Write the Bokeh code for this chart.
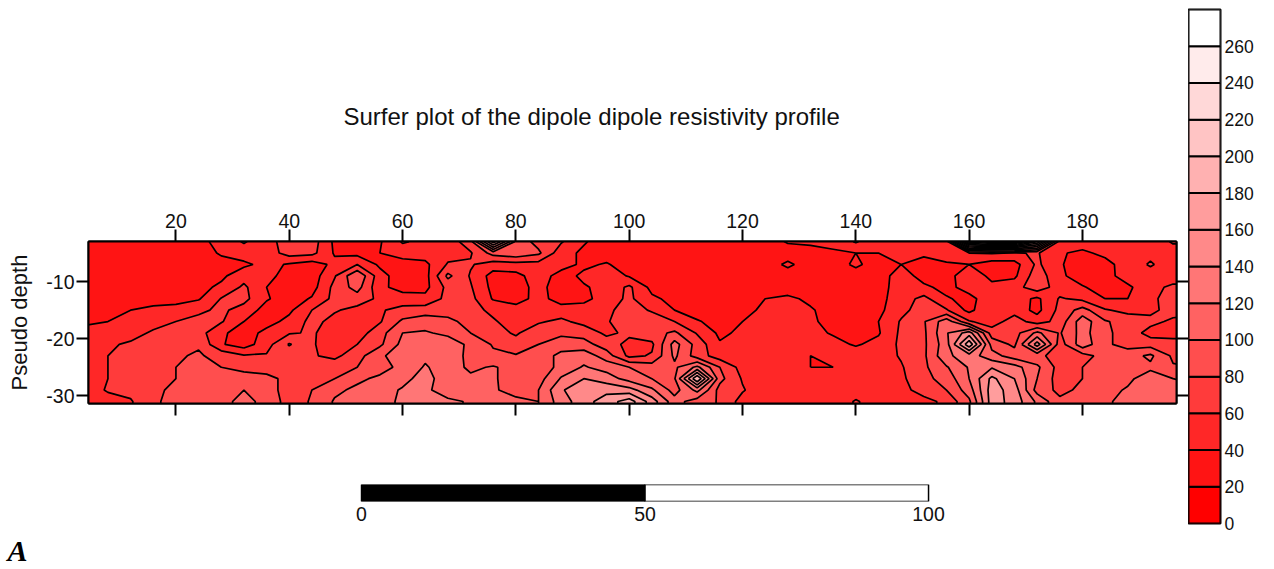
import numpy as np
from bokeh.embed import file_html
from bokeh.layouts import column, row
from bokeh.models import FixedTicker, LinearAxis, Range1d, Title
from bokeh.plotting import figure
from bokeh.resources import INLINE

SANS = "Liberation Sans"

title_text = "Surfer plot of the dipole dipole resistivity profile"
depth_label = "Pseudo depth"
x_ticks = [20, 40, 60, 80, 100, 120, 140, 160, 180]
y_ticks = [-10, -20, -30]
scale_ticks = [0, 50, 100]
levels = list(range(0, 281, 20))
bar_ticks = list(range(0, 261, 20))
band_colors = ["#ff0000", "#ff1414", "#ff2727", "#ff3b3b", "#ff4e4e", "#ff6262", "#ff7676",
               "#ff8989", "#ff9d9d", "#ffb1b1", "#ffc4c4", "#ffd8d8", "#ffebeb", "#ffffff"]

xs = list(range(4, 201, 4))
ys = [-33, -31, -29, -27, -25, -23, -21, -19, -17, -15, -13, -11, -9, -7, -5, -3]

z_03 = [30,30,30,30,30,33,48,62,48,75,70,36,33,38,62,55,48,72,190,95,72,62,42,30,30,30,30,30,30,30,30,42,45,44,62,45,48,50,50,250,275,275,200,50,50,50,50,50,62,62]
z_05 = [30,30,30,30,30,32,42,50,50,68,66,38,34,40,50,50,52,58,88,95,84,48,36,30,30,30,30,30,30,30,30,30,30,38,40,40,45,45,55,60,62,58,62,42,36,45,50,55,52,52]
z_07 = [30,30,30,30,30,32,34,36,46,38,30,45,60,36,30,35,62,62,50,52,52,48,36,42,30,30,30,30,30,30,30,44,30,30,44,30,40,30,36,40,30,32,64,42,30,33,50,62,50,50]
z_09 = [30,30,30,30,30,32,36,52,46,32,30,58,98,48,28,32,85,58,32,34,50,32,44,52,38,30,30,30,30,30,30,30,30,30,30,30,50,32,34,50,36,36,72,44,30,32,50,52,50,50]
z_11 = [30,30,30,30,30,34,44,64,40,30,32,66,88,45,32,34,66,62,34,32,46,30,38,46,64,34,30,30,30,30,30,30,30,30,30,30,52,44,34,48,44,52,72,50,42,30,36,54,64,64]
z_13 = [30,30,30,30,30,38,61,66,42,30,42,66,70,56,50,46,66,66,38,30,48,30,34,50,64,44,34,30,30,30,40,44,36,30,30,34,50,66,42,34,52,50,36,62,55,40,40,56,68,68]
z_15 = [30,32,40,46,50,56,64,52,32,36,60,62,54,58,66,70,70,66,56,50,50,50,50,56,68,58,40,30,30,34,44,50,42,32,30,35,54,70,62,34,60,52,34,66,88,62,54,55,68,68]
z_17 = [39,40,44,50,60,66,62,40,32,46,66,54,50,58,84,92,86,72,62,52,58,64,54,58,72,70,60,42,32,40,50,52,44,32,30,40,62,78,112,62,50,70,50,68,112,82,72,66,56,52]
z_19 = [42,46,50,64,68,68,44,30,46,58,62,52,50,72,100,102,96,80,66,58,70,76,72,56,64,72,84,58,36,44,50,50,46,38,32,38,64,76,118,150,70,72,105,78,108,84,72,52,48,48]
z_21 = [48,56,64,70,72,78,42,30,52,82,62,50,60,76,106,112,110,96,78,66,80,90,88,70,54,56,108,72,42,46,50,50,48,46,38,46,64,76,112,195,92,76,150,70,112,84,72,72,72,72]
z_23 = [52,60,68,72,78,82,74,62,62,66,62,55,72,96,112,116,112,94,84,82,88,106,112,90,55,62,104,70,50,50,50,50,40,42,50,50,62,76,116,130,108,90,86,70,72,88,92,104,76,72]
z_25 = [58,60,68,74,80,84,80,76,74,72,70,72,80,92,106,122,110,96,102,92,84,108,122,112,100,90,96,125,80,52,50,50,40,40,50,50,58,76,98,122,138,128,104,72,80,90,92,96,82,80]
z_27 = [56,60,66,72,80,84,86,86,84,76,70,80,96,104,114,128,108,104,102,92,92,122,140,130,112,100,98,200,86,58,50,50,50,50,50,50,56,74,88,120,165,140,100,70,80,92,96,110,100,98]
z_29 = [50,62,66,76,84,92,96,100,88,72,80,96,104,112,122,124,110,110,102,94,100,138,152,154,148,124,92,126,72,62,46,46,50,50,50,50,52,70,80,110,170,150,92,75,84,94,102,108,104,102]
z_31 = [46,52,58,78,84,90,96,104,96,70,82,102,106,112,124,122,124,118,108,104,100,130,152,170,190,150,108,90,78,52,50,50,48,46,62,50,48,52,66,96,170,152,116,84,84,96,108,110,112,112]
z_33 = z_31
z_rows = [z_33, z_31, z_29, z_27, z_25, z_23, z_21, z_19, z_17, z_15, z_13, z_11, z_09, z_07, z_05, z_03]

# ---- main contour panel
p = figure(width=1188, height=439, output_backend="svg", toolbar_location=None,
           x_range=Range1d(4.57, 196.6), y_range=Range1d(-31.35, -2.98),
           min_border_left=88, min_border_right=12, min_border_top=241, min_border_bottom=36,
           x_axis_location="below", y_axis_location="left", title=title_text)
p.frame_width = 1088
p.frame_height = 162
p.grid.visible = False
p.outline_line_color = "black"
p.outline_line_width = 2
p.background_fill_color = "white"
p.title.align = "left"
p.title.offset = 255
p.title.standoff = 161
p.title.text_font = SANS
p.title.text_font_style = "normal"
p.title.text_font_size = "24px"
p.title.text_color = "#111111"

cr = p.contour(np.array(xs, dtype=float), np.array(ys, dtype=float), np.array(z_rows, dtype=float),
               levels, fill_color=band_colors, line_color="black", line_width=1.7)

def style(ax):
    ax.axis_line_color = "black"
    ax.axis_line_width = 2
    ax.major_tick_line_color = "black"
    ax.major_tick_line_width = 2
    ax.major_tick_in = 0
    ax.major_tick_out = 12
    ax.minor_tick_line_color = None
    ax.major_label_text_font = SANS
    ax.major_label_text_font_size = "19.5px"
    ax.major_label_text_color = "#111111"
    ax.major_label_standoff = 2

xa_bottom = p.xaxis[0]
xa_bottom.ticker = FixedTicker(ticks=x_ticks)
style(xa_bottom)
xa_bottom.major_label_overrides = {v: "" for v in x_ticks}
xa_top = LinearAxis(ticker=FixedTicker(ticks=x_ticks))
style(xa_top)
p.add_layout(xa_top, "above")
ya_left = p.yaxis[0]
ya_left.ticker = FixedTicker(ticks=y_ticks)
style(ya_left)
ya_left.major_label_overrides = {v: str(v) for v in y_ticks}
ya_left.axis_label = depth_label
ya_left.axis_label_text_font = SANS
ya_left.axis_label_text_font_style = "normal"
ya_left.axis_label_text_font_size = "22px"
ya_left.axis_label_text_color = "#111111"
ya_left.axis_label_standoff = 11
ya_right = LinearAxis(ticker=FixedTicker(ticks=y_ticks))
style(ya_right)
ya_right.major_label_overrides = {v: "" for v in y_ticks}
p.add_layout(ya_right, "right")

# ---- scale bar (same frame as the main panel, bar spans 0..100 over 361..928 px)
s = figure(width=1188, height=126, output_backend="svg", toolbar_location=None,
           x_range=Range1d(-48.15, 143.73), y_range=Range1d(0, 1),
           min_border_left=88, min_border_right=12, min_border_top=45, min_border_bottom=64)
s.frame_width = 1088
s.frame_height = 17
s.grid.visible = False
s.yaxis.visible = False
s.outline_line_color = None
s.quad(left=scale_ticks[:-1], right=scale_ticks[1:], bottom=0, top=1,
       fill_color=["black", "white"], line_color="black", line_width=1.5)
s.xaxis.ticker = FixedTicker(ticks=scale_ticks)
s.xaxis.axis_line_color = None
s.xaxis.major_tick_line_color = None
s.xaxis.minor_tick_line_color = None
s.xaxis.major_tick_out = 0
s.xaxis.major_label_text_font = SANS
s.xaxis.major_label_text_font_size = "19.5px"
s.xaxis.major_label_text_color = "#111111"
s.xaxis.major_label_standoff = 5
s.add_layout(Title(text="A", align="left", offset=-81, standoff=16,
                   text_font="Liberation Serif", text_font_style="bold italic",
                   text_font_size="30px", text_color="black"), "below")

# ---- colour scale
c = figure(width=86, height=565, output_backend="svg", toolbar_location=None,
           x_range=Range1d(0, 1), y_range=Range1d(0, 280), y_axis_location="right",
           min_border_left=0, min_border_right=54, min_border_top=9, min_border_bottom=42)
c.frame_width = 32
c.frame_height = 514
c.grid.visible = False
c.xaxis.visible = False
c.outline_line_color = "black"
c.outline_line_width = 2
c.quad(left=0, right=1, bottom=levels[:-1], top=levels[1:],
       fill_color=band_colors, line_color="black", line_width=2)
c.yaxis.ticker = FixedTicker(ticks=bar_ticks)
c.yaxis.axis_line_color = None
c.yaxis.major_tick_line_color = None
c.yaxis.minor_tick_line_color = None
c.yaxis.major_tick_out = 0
c.yaxis.major_label_text_font = SANS
c.yaxis.major_label_text_font_size = "17.5px"
c.yaxis.major_label_text_color = "#111111"
c.yaxis.major_label_standoff = 4

layout = row(column(p, s, spacing=0), c, spacing=0)
open("out.html", "w").write(file_html(layout, INLINE))
